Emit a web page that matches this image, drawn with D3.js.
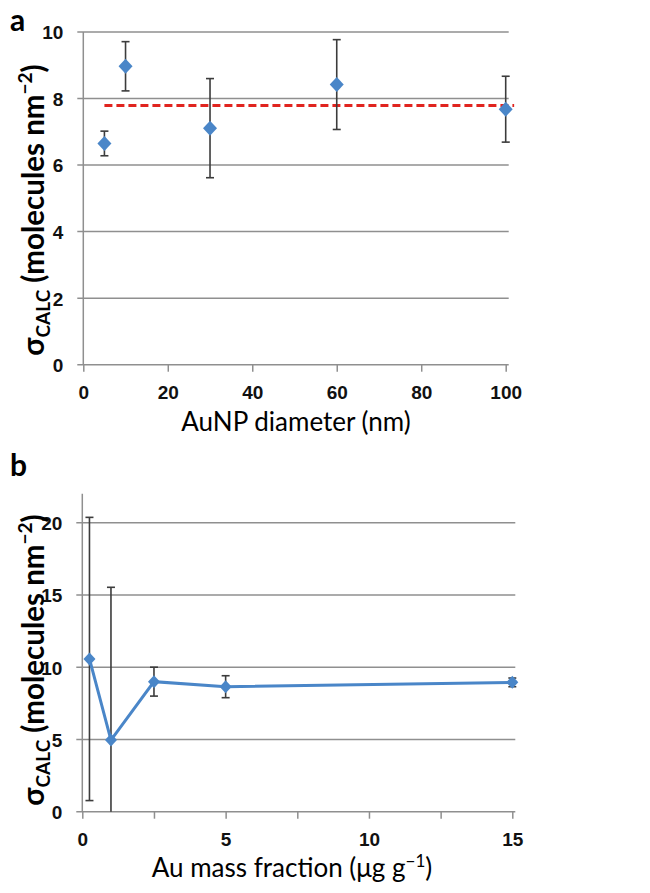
<!DOCTYPE html>
<html>
<head>
<meta charset="utf-8">
<title>sigma calc vs AuNP diameter and Au mass fraction</title>
<script src="https://d3js.org/d3.v7.min.js"></script>
<style>
  body { margin: 0; background: #fff; }
  svg { display: block; font-family: Lato, "Open Sans", sans-serif; }
</style>
</head>
<body>
<div id="chart"></div>
<script>
// ---- data ----
// panel a : sigma vs AuNP diameter
var diameters = [5, 10, 30, 60, 100];
var sigmaA = [6.65, 8.97, 7.11, 8.42, 7.68];
var errA = [0.37, 0.74, 1.49, 1.35, 0.99];
var meanA = 7.79;           // red dashed mean line
var meanSpan = [5, 102];
var ticksA_x = [0, 20, 40, 60, 80, 100];
var ticksA_y = [0, 2, 4, 6, 8, 10];

// panel b : sigma vs Au mass fraction
var massFrac = [0.25, 1, 2.5, 5, 15];
var sigmaB = [10.57, 4.96, 9.0, 8.65, 8.95];
var errB = [9.8, 10.57, 1.0, 0.76, 0.3];
var ticksB_x = [0, 2.5, 5, 7.5, 10, 12.5, 15];
var labelsB_x = [0, 5, 10, 15];
var ticksB_y = [0, 5, 10, 15, 20];

var W = 650, H = 893;
var blue = '#4a86c8', grid = '#8f8f8f', errCol = '#3c3c3c';

var svg = d3.select('#chart').append('svg')
    .attr('width', W).attr('height', H);

// square diamond (rotated square, slightly taller than wide)
function diamond(rx, ry) {
    return {
        draw: function (ctx, size) {
            ctx.moveTo(0, -ry); ctx.lineTo(rx, 0); ctx.lineTo(0, ry); ctx.lineTo(-rx, 0); ctx.closePath();
        }
    };
}

function yTitle(g, cx, cy) {
    var t = g.append('text')
        .attr('transform', 'translate(' + cx + ',' + cy + ') rotate(-90)')
        .attr('text-anchor', 'middle')
        .style('font-size', '29.5px').style('font-weight', 'bold').attr('fill', '#000');
    t.append('tspan').text('σ');
    t.append('tspan').text('CALC').style('font-size', '19px').attr('dy', 6);
    t.append('tspan').text(' (molecules nm').attr('dy', -6);
    t.append('tspan').text('−2').style('font-size', '19px').attr('dy', -12);
    t.append('tspan').text(')').attr('dy', 12);
}

function panel(opt) {
    var g = svg.append('g');
    var x = opt.x, y = opt.y;
    var x0 = x.range()[0], x1 = x.range()[1];

    // horizontal gridlines (they also stick out left as tick marks)
    g.selectAll('.grid').data(opt.yTicks).enter().append('line')
        .attr('x1', x0 - 6).attr('x2', x1 + 3)
        .attr('y1', function (d) { return y(d); }).attr('y2', function (d) { return y(d); })
        .attr('stroke', grid).attr('stroke-width', 1.5);

    // y axis line
    g.append('line').attr('x1', x0).attr('x2', x0)
        .attr('y1', y.range()[0]).attr('y2', y.range()[1])
        .attr('stroke', grid).attr('stroke-width', 1.5);

    // y tick labels
    var ya = g.append('g').attr('transform', 'translate(' + x0 + ',0)')
        .call(d3.axisLeft(y).tickValues(opt.yTicks).tickSize(0).tickPadding(20));
    ya.select('.domain').remove();
    ya.selectAll('text').style('font-size', '19px').style('font-weight', 'bold').attr('fill', '#111')
        .attr('dy', '0.36em');

    // x ticks + labels
    var xa = g.append('g').attr('transform', 'translate(0,' + y(0) + ')')
        .call(d3.axisBottom(x).tickValues(opt.xTicks).tickSizeInner(7).tickSizeOuter(0).tickPadding(14)
            .tickFormat(function (d) { return opt.xLabels.indexOf(d) >= 0 ? d3.format('d')(d) : ''; }));
    xa.select('.domain').remove();
    xa.selectAll('.tick line').attr('stroke', grid).attr('stroke-width', 1.5);
    xa.selectAll('text').style('font-size', '19px').style('font-weight', 'bold').attr('fill', '#111');

    return g;
}

function errorBars(g, xs, ys, es, x, y, cap) {
    var data = xs.map(function (d, i) { return { x: d, y: ys[i], e: es[i] }; });
    var eb = g.append('g').selectAll('g').data(data).enter().append('g');
    eb.append('line')
        .attr('x1', function (d) { return x(d.x); }).attr('x2', function (d) { return x(d.x); })
        .attr('y1', function (d) { return y(d.y + d.e); })
        .attr('y2', function (d) { return y(Math.max(0, d.y - d.e)); })
        .attr('stroke', errCol).attr('stroke-width', 1.6);
    eb.append('line')
        .attr('x1', function (d) { return x(d.x) - cap; }).attr('x2', function (d) { return x(d.x) + cap; })
        .attr('y1', function (d) { return y(d.y + d.e); }).attr('y2', function (d) { return y(d.y + d.e); })
        .attr('stroke', errCol).attr('stroke-width', 1.6);
    eb.filter(function (d) { return d.y - d.e > 0; }).append('line')
        .attr('x1', function (d) { return x(d.x) - cap; }).attr('x2', function (d) { return x(d.x) + cap; })
        .attr('y1', function (d) { return y(d.y - d.e); }).attr('y2', function (d) { return y(d.y - d.e); })
        .attr('stroke', errCol).attr('stroke-width', 1.6);
    return data;
}

// ---------------- panel a ----------------
var xA = d3.scaleLinear().domain([0, 100]).range([83.3, 505.7]);
var yA = d3.scaleLinear().domain([0, 10]).range([364.7, 32]);
var gA = panel({ x: xA, y: yA, yTicks: ticksA_y, xTicks: ticksA_x, xLabels: ticksA_x });

gA.append('line')
    .attr('x1', xA(meanSpan[0])).attr('x2', xA(meanSpan[1]))
    .attr('y1', yA(meanA)).attr('y2', yA(meanA))
    .attr('stroke', '#e0241f').attr('stroke-width', 3).attr('stroke-dasharray', '8,4');

var ptsA = errorBars(gA, diameters, sigmaA, errA, xA, yA, 4);
gA.selectAll('.mk').data(ptsA).enter().append('path')
    .attr('d', d3.symbol().type(diamond(7, 7.5)))
    .attr('transform', function (d) { return 'translate(' + xA(d.x) + ',' + yA(d.y) + ')'; })
    .attr('fill', blue);

svg.append('text').attr('x', 10).attr('y', 31).text('a')
    .style('font-size', '30px').style('font-weight', 'bold');
yTitle(svg, 44, 210);
svg.append('text').attr('x', 296).attr('y', 431).attr('text-anchor', 'middle')
    .style('font-size', '26px').text('AuNP diameter (nm)');

// ---------------- panel b ----------------
var xB = d3.scaleLinear().domain([0, 15]).range([82.3, 512.3]);
var yB = d3.scaleLinear().domain([0, 22]).range([811.7, 493.8]);
var gB = panel({ x: xB, y: yB, yTicks: ticksB_y, xTicks: ticksB_x, xLabels: labelsB_x });

var ptsB = errorBars(gB, massFrac, sigmaB, errB, xB, yB, 4);
gB.append('path').datum(ptsB)
    .attr('d', d3.line().x(function (d) { return xB(d.x); }).y(function (d) { return yB(d.y); }))
    .attr('fill', 'none').attr('stroke', blue).attr('stroke-width', 3);
gB.selectAll('.mk').data(ptsB).enter().append('path')
    .attr('d', d3.symbol().type(diamond(6, 6.5)))
    .attr('transform', function (d) { return 'translate(' + xB(d.x) + ',' + yB(d.y) + ')'; })
    .attr('fill', blue);

svg.append('text').attr('x', 10).attr('y', 476).text('b')
    .style('font-size', '30px').style('font-weight', 'bold');
yTitle(svg, 44, 660);
var xtB = svg.append('text').attr('x', 292).attr('y', 877).attr('text-anchor', 'middle')
    .style('font-size', '26px');
xtB.append('tspan').text('Au mass fraction (μg g');
xtB.append('tspan').text('−1').style('font-size', '17px').attr('dy', -10);
xtB.append('tspan').text(')').attr('dy', 10);
</script>
</body>
</html>
